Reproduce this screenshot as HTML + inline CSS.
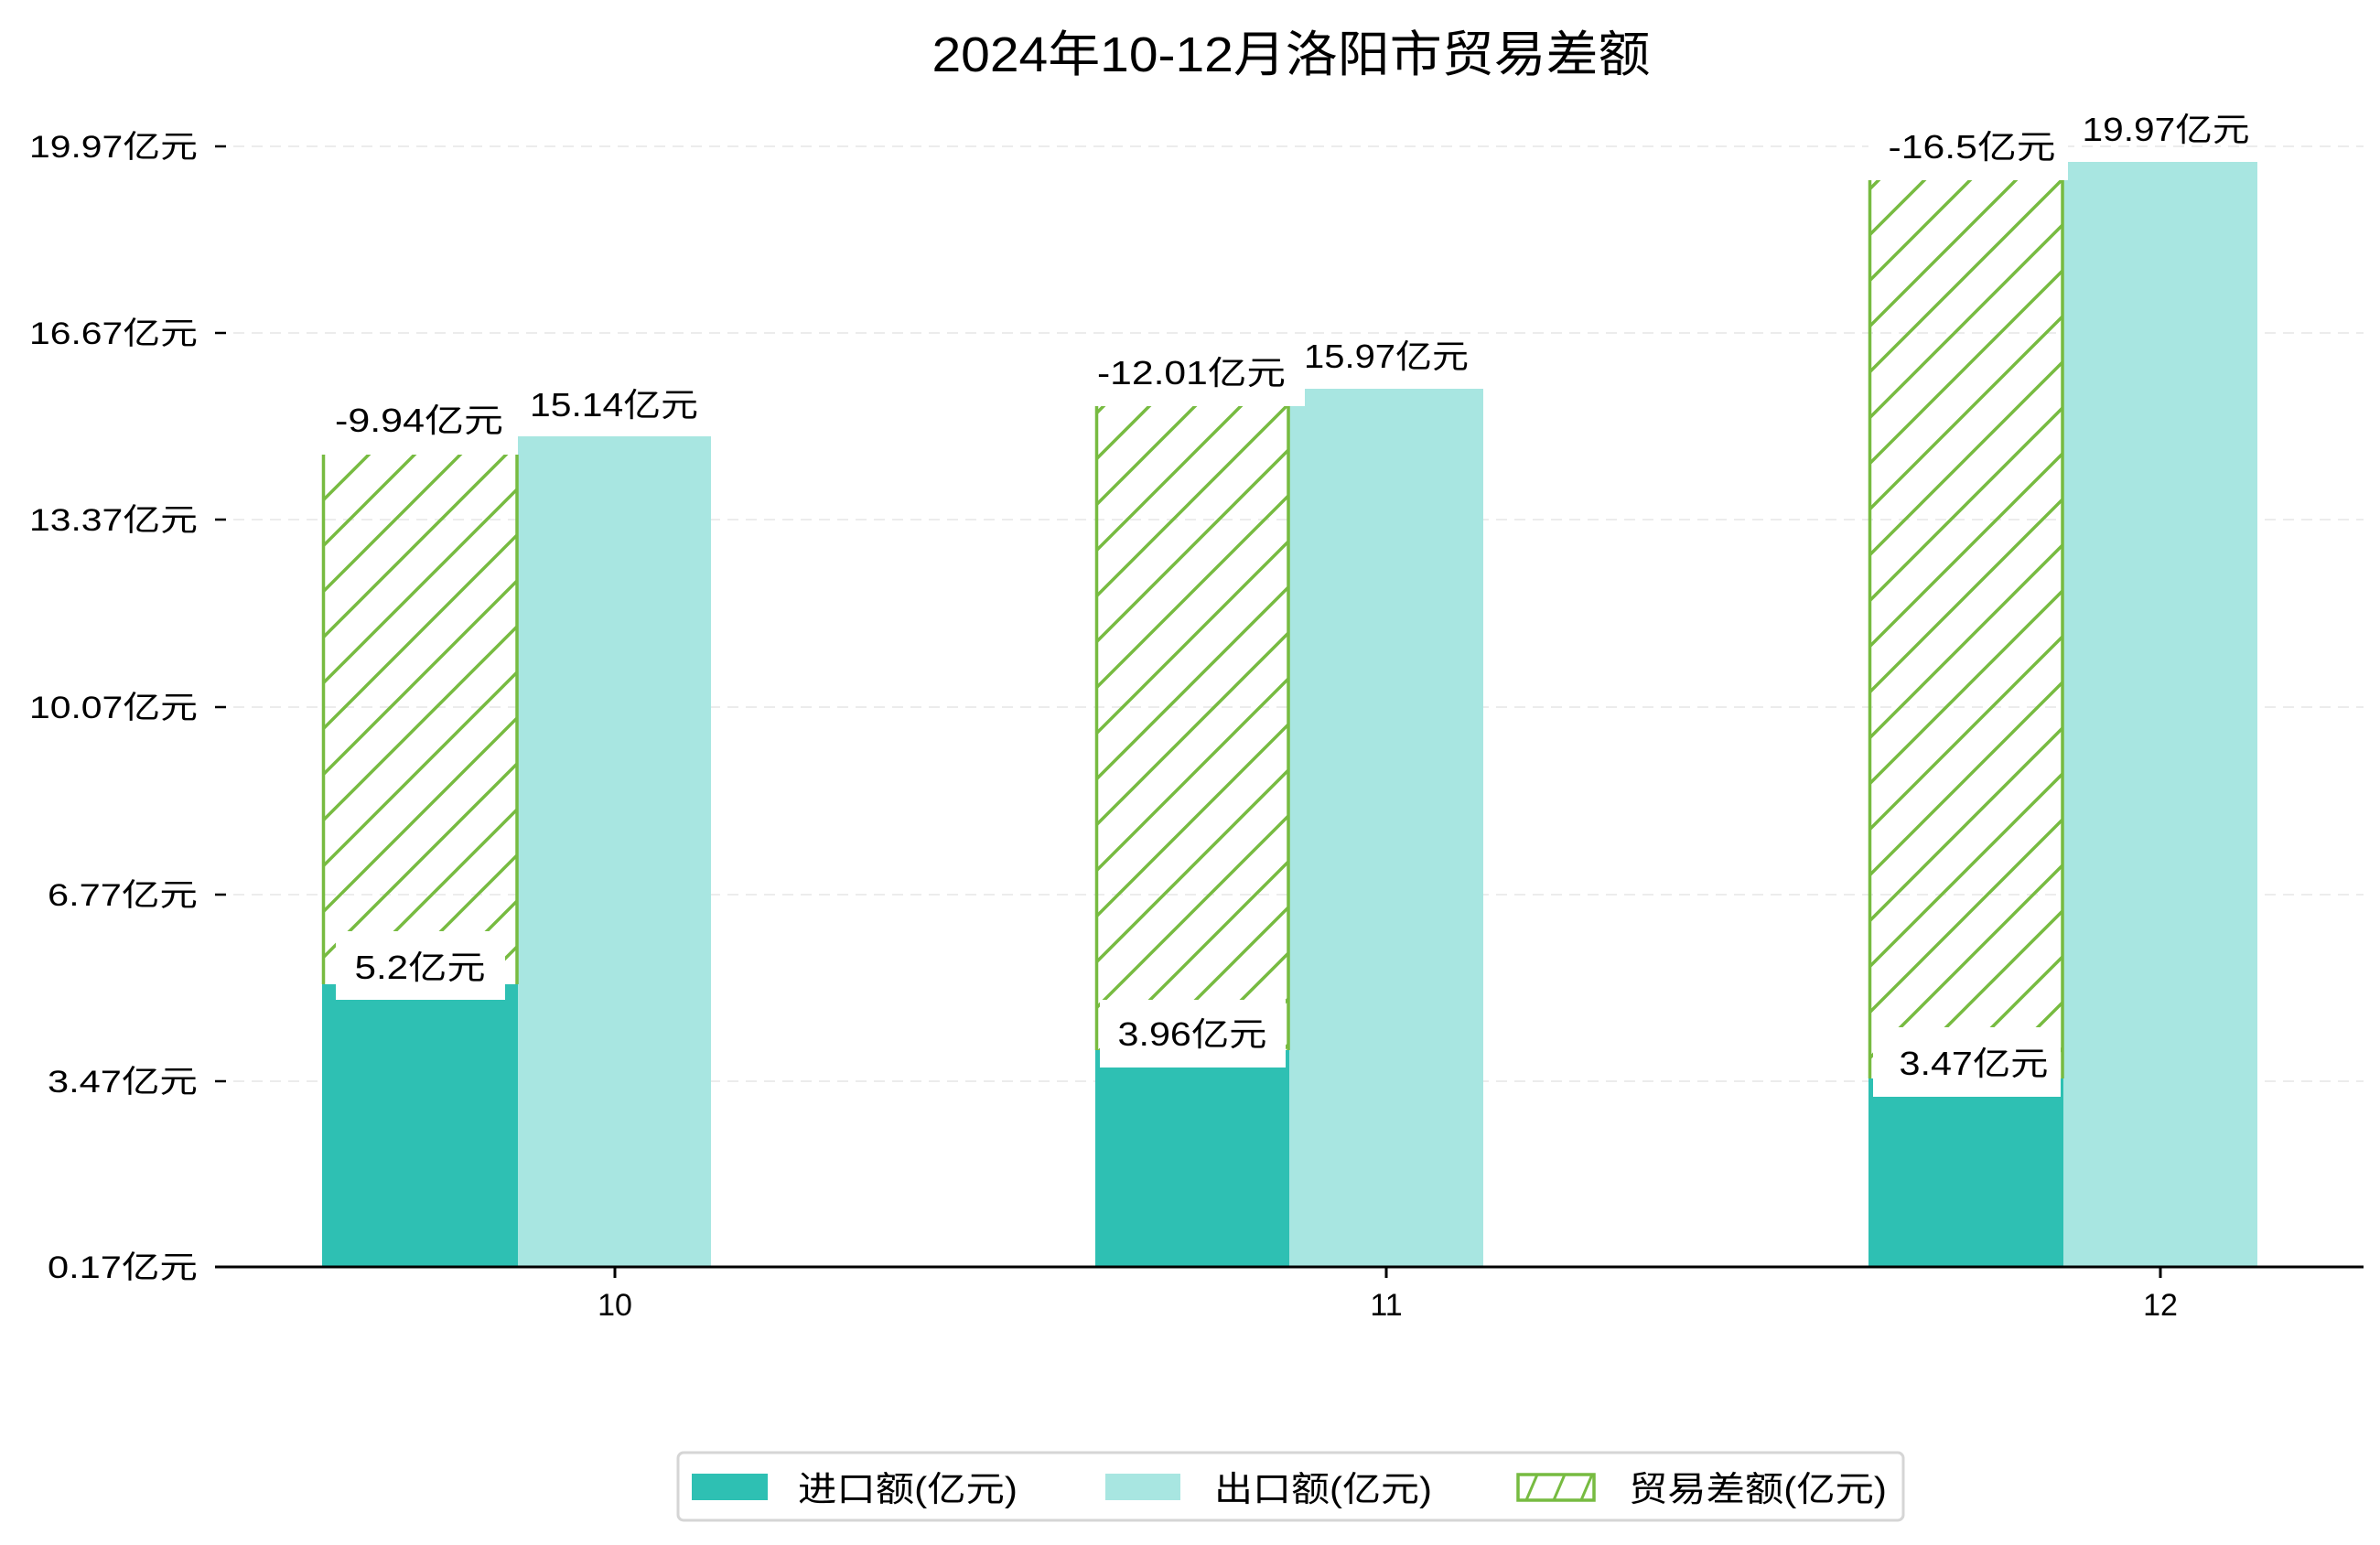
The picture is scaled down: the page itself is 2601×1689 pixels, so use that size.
<!DOCTYPE html>
<html><head><meta charset="utf-8"><style>
html,body{margin:0;padding:0;background:#fff;}
svg{display:block;}
text{font-family:"WenQuanYi Zen Hei","Liberation Sans","Noto Sans CJK SC",sans-serif;fill:#000;}
</style></head><body>
<svg width="2601" height="1689" viewBox="0 0 2601 1689" xmlns="http://www.w3.org/2000/svg">
<defs>
<pattern id="h" patternUnits="userSpaceOnUse" width="50" height="50">
<line x1="-5" y1="55" x2="55" y2="-5" stroke="#77bb41" stroke-width="3.5"/>
<line x1="-30" y1="30" x2="30" y2="-30" stroke="#77bb41" stroke-width="3.5"/>
<line x1="20" y1="80" x2="80" y2="20" stroke="#77bb41" stroke-width="3.5"/>
</pattern>
</defs>
<text x="1411" y="78" font-size="54" text-anchor="middle" textLength="785" lengthAdjust="spacingAndGlyphs">2024年10-12月洛阳市贸易差额</text>
<!-- grid -->
<g stroke="#ececec" stroke-width="2" stroke-dasharray="12,8">
<line x1="235" y1="160" x2="2583" y2="160"/>
<line x1="235" y1="364" x2="2583" y2="364"/>
<line x1="235" y1="568" x2="2583" y2="568"/>
<line x1="235" y1="773" x2="2583" y2="773"/>
<line x1="235" y1="978" x2="2583" y2="978"/>
<line x1="235" y1="1182" x2="2583" y2="1182"/>
</g>
<!-- y ticks -->
<g stroke="#000" stroke-width="2.5">
<line x1="235" y1="160" x2="247" y2="160"/>
<line x1="235" y1="364" x2="247" y2="364"/>
<line x1="235" y1="568" x2="247" y2="568"/>
<line x1="235" y1="773" x2="247" y2="773"/>
<line x1="235" y1="978" x2="247" y2="978"/>
<line x1="235" y1="1182" x2="247" y2="1182"/>
<line x1="235" y1="1385" x2="247" y2="1385"/>
</g>
<g font-size="34" text-anchor="end">
<text x="216" y="172" textLength="184" lengthAdjust="spacingAndGlyphs">19.97亿元</text>
<text x="216" y="376" textLength="184" lengthAdjust="spacingAndGlyphs">16.67亿元</text>
<text x="216" y="580" textLength="184" lengthAdjust="spacingAndGlyphs">13.37亿元</text>
<text x="216" y="785" textLength="184" lengthAdjust="spacingAndGlyphs">10.07亿元</text>
<text x="216" y="990" textLength="164" lengthAdjust="spacingAndGlyphs">6.77亿元</text>
<text x="216" y="1194" textLength="164" lengthAdjust="spacingAndGlyphs">3.47亿元</text>
<text x="216" y="1397" textLength="164" lengthAdjust="spacingAndGlyphs">0.17亿元</text>
</g>
<!-- bars group 10 -->
<rect x="352" y="1076" width="214" height="309" fill="#2ec0b3"/>
<rect x="566" y="477" width="211" height="908" fill="#a8e6e1"/>
<rect x="352" y="497" width="214" height="579" fill="url(#h)"/>
<line x1="353.5" y1="497" x2="353.5" y2="1076" stroke="#77bb41" stroke-width="3.5"/>
<line x1="565" y1="497" x2="565" y2="1076" stroke="#77bb41" stroke-width="3.5"/>
<!-- group 11 -->
<rect x="1197" y="1148" width="212" height="237" fill="#2ec0b3"/>
<rect x="1409" y="425" width="212" height="960" fill="#a8e6e1"/>
<rect x="1197" y="444" width="212" height="704" fill="url(#h)"/>
<line x1="1198.5" y1="444" x2="1198.5" y2="1148" stroke="#77bb41" stroke-width="3.5"/>
<line x1="1408" y1="444" x2="1408" y2="1148" stroke="#77bb41" stroke-width="3.5"/>
<!-- group 12 -->
<rect x="2042" y="1179" width="213" height="206" fill="#2ec0b3"/>
<rect x="2255" y="177" width="212" height="1208" fill="#a8e6e1"/>
<rect x="2042" y="197" width="213" height="982" fill="url(#h)"/>
<line x1="2043.5" y1="197" x2="2043.5" y2="1179" stroke="#77bb41" stroke-width="3.5"/>
<line x1="2254" y1="197" x2="2254" y2="1179" stroke="#77bb41" stroke-width="3.5"/>
<!-- label boxes -->
<g fill="#fff">
<rect x="356" y="430" width="210" height="67"/>
<rect x="367" y="1018" width="185" height="75"/>
<rect x="1197" y="378" width="229" height="66"/>
<rect x="1202" y="1093" width="203" height="74"/>
<rect x="2042" y="130" width="218" height="67"/>
<rect x="2047" y="1123" width="205" height="76"/>
</g>
<g font-size="36" text-anchor="middle">
<text x="458" y="472" textLength="184" lengthAdjust="spacingAndGlyphs">-9.94亿元</text>
<text x="671" y="455" textLength="184" lengthAdjust="spacingAndGlyphs">15.14亿元</text>
<text x="459" y="1070" textLength="143" lengthAdjust="spacingAndGlyphs">5.2亿元</text>
<text x="1302" y="420" textLength="206" lengthAdjust="spacingAndGlyphs">-12.01亿元</text>
<text x="1515" y="402" textLength="180" lengthAdjust="spacingAndGlyphs">15.97亿元</text>
<text x="1303" y="1143" textLength="163" lengthAdjust="spacingAndGlyphs">3.96亿元</text>
<text x="2155" y="173" textLength="183" lengthAdjust="spacingAndGlyphs">-16.5亿元</text>
<text x="2367" y="154" textLength="183" lengthAdjust="spacingAndGlyphs">19.97亿元</text>
<text x="2157" y="1175" textLength="163" lengthAdjust="spacingAndGlyphs">3.47亿元</text>
</g>
<!-- x axis -->
<line x1="235" y1="1385" x2="2583" y2="1385" stroke="#000" stroke-width="3"/>
<g stroke="#000" stroke-width="3">
<line x1="672" y1="1385" x2="672" y2="1397"/>
<line x1="1515" y1="1385" x2="1515" y2="1397"/>
<line x1="2361" y1="1385" x2="2361" y2="1397"/>
</g>
<g font-size="34" text-anchor="middle">
<text x="672" y="1438">10</text>
<text x="1515" y="1438">11</text>
<text x="2361" y="1438">12</text>
</g>
<!-- legend -->
<rect x="741" y="1588" width="1339" height="74" rx="6" fill="#fff" stroke="#d5d5d5" stroke-width="3"/>
<rect x="756" y="1611" width="83" height="29" fill="#2ec0b3"/>
<rect x="1208" y="1611" width="82" height="29" fill="#a8e6e1"/>
<rect x="1659" y="1612" width="83" height="28" fill="#fff" stroke="#77bb41" stroke-width="3.5"/>
<line x1="1668" y1="1640" x2="1680" y2="1612" stroke="#77bb41" stroke-width="3"/>
<line x1="1698" y1="1640" x2="1710" y2="1612" stroke="#77bb41" stroke-width="3"/>
<line x1="1728" y1="1640" x2="1740" y2="1612" stroke="#77bb41" stroke-width="3"/>
<g font-size="38">
<text x="872" y="1641" textLength="240" lengthAdjust="spacingAndGlyphs">进口额(亿元)</text>
<text x="1327" y="1641" textLength="238" lengthAdjust="spacingAndGlyphs">出口额(亿元)</text>
<text x="1780" y="1641" textLength="282" lengthAdjust="spacingAndGlyphs">贸易差额(亿元)</text>
</g>
</svg>
</body></html>
